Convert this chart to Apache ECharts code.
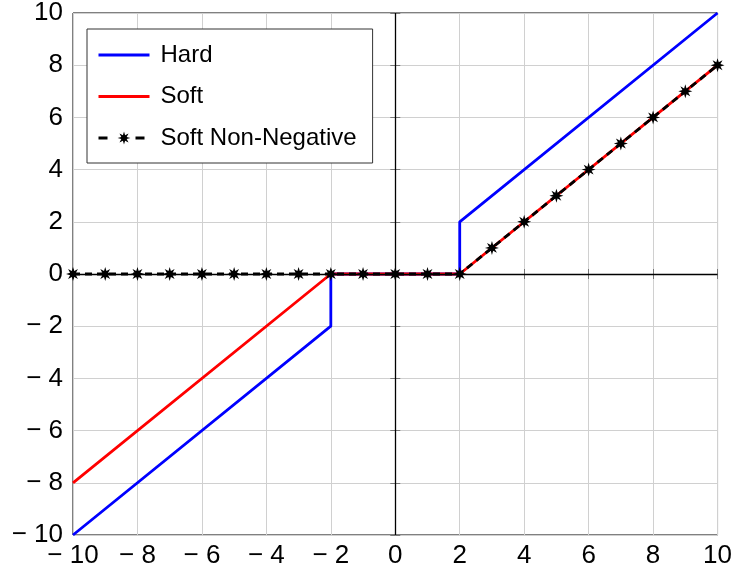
<!DOCTYPE html>
<html>
<head>
<meta charset="utf-8">
<script src="https://cdn.jsdelivr.net/npm/echarts@6/dist/echarts.min.js"></script>
<style>
  html, body { margin: 0; padding: 0; background: #fff; }
  #chart { width: 735px; height: 571px; }
</style>
</head>
<body>
<div id="chart"></div>
<script>
// thresholding curves
const hardX = [-10, -2, -2, 2, 2, 10];
const hardY = [-10, -2, 0, 0, 2, 10];
const softX = [-10, -2, 2, 10];
const softY = [-8, 0, 0, 8];
const nnX = [-10, -9, -8, -7, -6, -5, -4, -3, -2, -1, 0, 1, 2, 3, 4, 5, 6, 7, 8, 9, 10];
const nnY = [0, 0, 0, 0, 0, 0, 0, 0, 0, 0, 0, 0, 0, 1, 2, 3, 4, 5, 6, 7, 8];

const FONT = '"Liberation Sans", Arial, Helvetica, sans-serif';

// asterisk marker: 8 point star with fat arms
const starPath = (() => {
  let d = '';
  for (let k = 0; k < 16; k++) {
    const a = (k * Math.PI) / 8;
    const r = k % 2 === 0 ? 10 : 4.5;
    const x = (10 + r * Math.sin(a)).toFixed(2);
    const y = (10 - r * Math.cos(a)).toFixed(2);
    d += (k === 0 ? 'M' : 'L') + x + ' ' + y + ' ';
  }
  return 'path://' + d + 'Z';
})();

const fmt = v => (v < 0 ? '\u2212 ' + Math.abs(v) : String(v));

const zip = (xs, ys) => xs.map((x, i) => [x, ys[i]]);

const chart = echarts.init(document.getElementById('chart'));

const baseAxis = {
  type: 'value',
  min: -10,
  max: 10,
  interval: 2,
  axisLine: { show: false },
  axisTick: { show: true, inside: true, length: 5, lineStyle: { color: '#777', width: 1 } },
  splitLine: { show: false }
};

chart.setOption({
  animation: false,
  grid: {
    left: 73, right: 17, top: 13, bottom: 36,
    show: true, borderColor: '#000', borderWidth: 1, backgroundColor: '#fff'
  },
  legend: {
    orient: 'vertical',
    left: 87,
    top: 29,
    padding: [14, 16, 13, 10],
    itemGap: 17.5,
    itemWidth: 51,
    itemHeight: 16,
    backgroundColor: '#fff',
    borderColor: '#333',
    borderWidth: 1,
    lineStyle: { width: 3 },
    textStyle: { fontFamily: FONT, fontSize: 24, lineHeight: 24, color: '#000', padding: [0, 0, 0, 6] },
    data: [
      { name: 'Hard', itemStyle: { opacity: 0 } },
      { name: 'Soft', itemStyle: { opacity: 0 } },
      { name: 'Soft Non-Negative', lineStyle: { width: 3, type: [9, 28] } }
    ]
  },
  xAxis: [
    Object.assign({}, baseAxis, {
      position: 'bottom',
      splitLine: { show: true, lineStyle: { color: '#d0d0d0', width: 1 } },
      axisLabel: { fontFamily: FONT, fontSize: 26, color: '#000', margin: 8, formatter: fmt }
    }),
    Object.assign({}, baseAxis, { position: 'top', axisLabel: { show: false } })
  ],
  yAxis: [
    Object.assign({}, baseAxis, {
      position: 'left',
      splitLine: { show: true, lineStyle: { color: '#d0d0d0', width: 1 } },
      axisLabel: { fontFamily: FONT, fontSize: 26, color: '#000', margin: 10, formatter: fmt }
    }),
    Object.assign({}, baseAxis, { position: 'right', axisLabel: { show: false } })
  ],
  series: [
    {
      name: 'Hard',
      type: 'line',
      data: zip(hardX, hardY),
      symbol: 'none',
      color: '#0000ff',
      lineStyle: { color: '#0000ff', width: 2.8 },
      markLine: {
        silent: true,
        symbol: 'none',
        label: { show: false },
        lineStyle: { color: '#000', width: 1.3, type: 'solid' },
        data: [{ xAxis: 0 }, { yAxis: 0 }]
      }
    },
    {
      name: 'Soft',
      type: 'line',
      data: zip(softX, softY),
      symbol: 'none',
      color: '#ff0000',
      lineStyle: { color: '#ff0000', width: 2.8 }
    },
    {
      name: 'Soft Non-Negative',
      type: 'line',
      data: zip(nnX, nnY),
      symbol: starPath,
      symbolSize: 14,
      showAllSymbol: true,
      color: '#000',
      itemStyle: { color: '#000' },
      lineStyle: { color: '#000', width: 2.8, type: [7, 5] }
    }
  ]
});
</script>
</body>
</html>
